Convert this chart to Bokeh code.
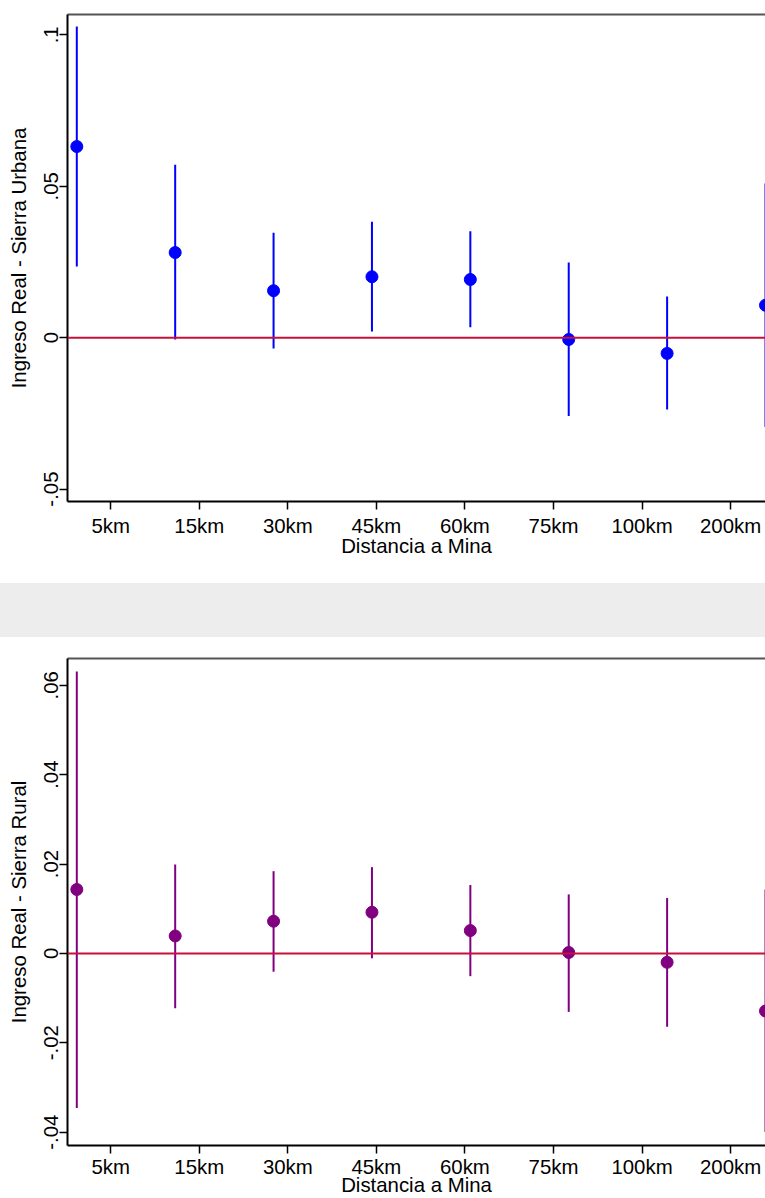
from bokeh.plotting import figure
from bokeh.models import Range1d, Span, ColumnDataSource, FixedTicker, Div, LinearAxis
from bokeh.layouts import column
from bokeh.embed import file_html
from bokeh.resources import INLINE

# ---- data ----
pos = [1, 2, 3, 4, 5, 6, 7, 8]
tick_labels = ["5km", "15km", "30km", "45km", "60km", "75km", "100km", "200km"]
tick_pos = [1.345, 2.245, 3.145, 4.045, 4.945, 5.845, 6.745, 7.645]

urb_coef = [0.0631, 0.0281, 0.0155, 0.0201, 0.0192, -0.0006, -0.0052, 0.0107]
urb_hi = [0.1027, 0.0571, 0.0346, 0.0383, 0.0351, 0.0248, 0.0136, 0.0509]
urb_lo = [0.0235, -0.0006, -0.0036, 0.0020, 0.0034, -0.0259, -0.0237, -0.0295]

rur_coef = [0.0143, 0.0039, 0.0072, 0.0092, 0.0051, 0.0002, -0.0020, -0.0129]
rur_hi = [0.0631, 0.0199, 0.0184, 0.0193, 0.0153, 0.0132, 0.0124, 0.0143]
rur_lo = [-0.0346, -0.0123, -0.0041, -0.0011, -0.0051, -0.0131, -0.0164, -0.0400]

urb_yticks = [-0.05, 0, 0.05, 0.1]
urb_ylabels = ["-.05", "0", ".05", ".1"]
rur_yticks = [-0.04, -0.02, 0, 0.02, 0.04, 0.06]
rur_ylabels = ["-.04", "-.02", "0", ".02", ".04", ".06"]

FONT = "Liberation Sans"
FS = "20.4px"


def make_panel(coef, lo, hi, color, ylabel, yr, yticks, ylabels, height, top, bottom,
               xtick_standoff, xlab_standoff):
    p = figure(width=765, height=height, output_backend="svg", toolbar_location=None,
               x_range=Range1d(0.9055, 8.0), y_range=Range1d(*yr),
               min_border_left=67, min_border_right=0,
               min_border_top=top, min_border_bottom=bottom)
    p.xgrid.visible = False
    p.ygrid.visible = False
    p.outline_line_color = None
    p.background_fill_color = "white"
    p.border_fill_color = "white"

    xa = p.below[0]
    ya = p.left[0]

    # top frame border (no right border visible in the reference)
    top_ax = LinearAxis(ticker=FixedTicker(ticks=[]), axis_line_color="#555555",
                        axis_line_width=2, major_tick_out=0, major_tick_in=0,
                        minor_tick_out=0, minor_tick_in=0,
                        major_label_text_font_size="0px", major_label_standoff=0,
                        axis_label_standoff=0)
    p.add_layout(top_ax, "above")

    src = ColumnDataSource(dict(x=pos, y=coef, lo=lo, hi=hi))
    p.add_layout(Span(location=0, dimension="width", line_color="#C8103A", line_width=2))
    p.segment(x0="x", y0="lo", x1="x", y1="hi", source=src, line_color=color, line_width=2)
    p.scatter(x="x", y="y", source=src, size=12, fill_color=color, line_color=color)

    xa.ticker = FixedTicker(ticks=tick_pos)
    xa.major_label_overrides = {t: l for t, l in zip(tick_pos, tick_labels)}
    xa.axis_label = "Distancia a Mina"

    ya.ticker = FixedTicker(ticks=yticks)
    ya.major_label_overrides = {t: l for t, l in zip(yticks, ylabels)}
    ya.major_label_orientation = "vertical"
    ya.axis_label = ylabel

    for ax in (xa, ya):
        ax.axis_line_color = "black"
        ax.axis_line_width = 2
        ax.major_tick_line_color = "black"
        ax.major_tick_line_width = 1.5
        ax.major_tick_out = 8
        ax.major_tick_in = 0
        ax.minor_tick_line_color = None
        ax.major_label_text_font = FONT
        ax.major_label_text_font_size = FS
        ax.major_label_text_color = "black"
        ax.axis_label_text_font = FONT
        ax.axis_label_text_font_size = FS
        ax.axis_label_text_font_style = "normal"
        ax.axis_label_text_color = "black"
    xa.major_label_standoff = xtick_standoff
    xa.axis_label_standoff = xlab_standoff
    ya.major_label_standoff = 1
    ya.axis_label_standoff = 12
    return p


p1 = make_panel(urb_coef, urb_lo, urb_hi, "#0000FF", "Ingreso Real - Sierra Urbana",
                (-0.0541, 0.1067), urb_yticks, urb_ylabels, 583, 14, 82, 5, -5)
band = Div(text="", width=765, height=54,
           styles={"background-color": "#EDEDED", "margin": "0", "padding": "0"})
p2 = make_panel(rur_coef, rur_lo, rur_hi, "#800080", "Ingreso Real - Sierra Rural",
                (-0.0430, 0.0660), rur_yticks, rur_ylabels, 561, 21, 52, 2, -7)

layout = column(p1, band, p2, spacing=0)
open("out.html", "w").write(file_html(layout, INLINE))
